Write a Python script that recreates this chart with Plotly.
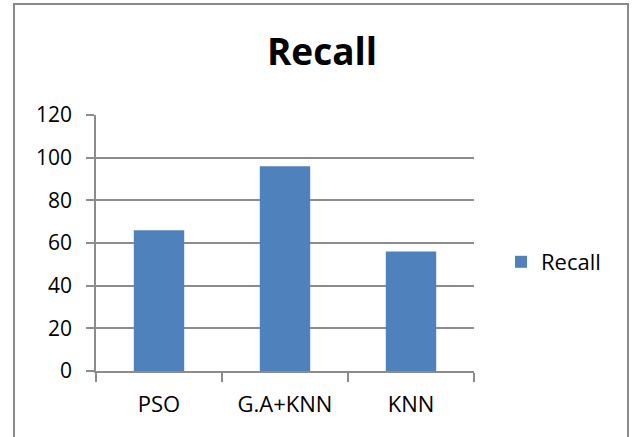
import plotly.graph_objects as go

# Recall (%) per method
methods = ["PSO", "G.A+KNN", "KNN"]
recall = [66, 96, 56]
y_ticks = [0, 20, 40, 60, 80, 100, 120]

W, H = 633, 437
L, R, T, B = 96, 159, 115, 66
pw, ph = W - L - R, H - T - B

def px_x(x):
    return (x - L) / pw

def px_y(y):
    return (H - B - y) / ph

FONT = "Open Sans"
GRID = "#8c8c8c"

fig = go.Figure(
    go.Bar(
        x=methods,
        y=recall,
        name="Recall",
        marker=dict(color="#4f81bd", line=dict(width=0)),
        showlegend=True,
    )
)

fig.update_layout(
    width=W,
    height=H,
    margin=dict(l=L, r=R, t=T, b=B, autoexpand=False),
    paper_bgcolor="white",
    plot_bgcolor="white",
    bargap=0.6,
    font=dict(family=FONT, size=22, color="#000000"),
    title=dict(
        text="<b>Recall</b>",
        font=dict(family=FONT, size=37, color="#000000"),
        x=322 / W,
        xanchor="center",
        y=1 - 52 / H,
        yanchor="middle",
    ),
    legend=dict(
        x=px_x(501),
        y=px_y(262),
        xanchor="left",
        yanchor="middle",
        font=dict(family=FONT, size=22, color="#000000"),
        bgcolor="rgba(0,0,0,0)",
        itemwidth=30,
    ),
    xaxis=dict(
        type="category",
        showgrid=False,
        showline=True,
        linecolor=GRID,
        linewidth=1.5,
        ticks="outside",
        tickson="boundaries",
        ticklen=9,
        tickwidth=1.5,
        tickcolor=GRID,
        tickfont=dict(family=FONT, size=22, color="#000000"),
        ticklabelstandoff=13,
    ),
    yaxis=dict(
        range=[0, 120],
        tickvals=y_ticks,
        showgrid=True,
        gridcolor=GRID,
        gridwidth=1.5,
        zeroline=False,
        showline=True,
        linecolor=GRID,
        linewidth=1.5,
        ticks="outside",
        ticklen=8,
        tickwidth=1.5,
        tickcolor=GRID,
        tickfont=dict(family=FONT, size=21, color="#000000"),
        ticklabelstandoff=10,
    ),
    shapes=[
        dict(
            type="rect",
            xref="paper",
            yref="paper",
            x0=px_x(14),
            x1=px_x(628),
            y0=px_y(H + 10),
            y1=px_y(4),
            line=dict(color="#8a8a8a", width=2),
            fillcolor="rgba(0,0,0,0)",
            layer="below",
        )
    ],
)

fig.write_html("out.html")
